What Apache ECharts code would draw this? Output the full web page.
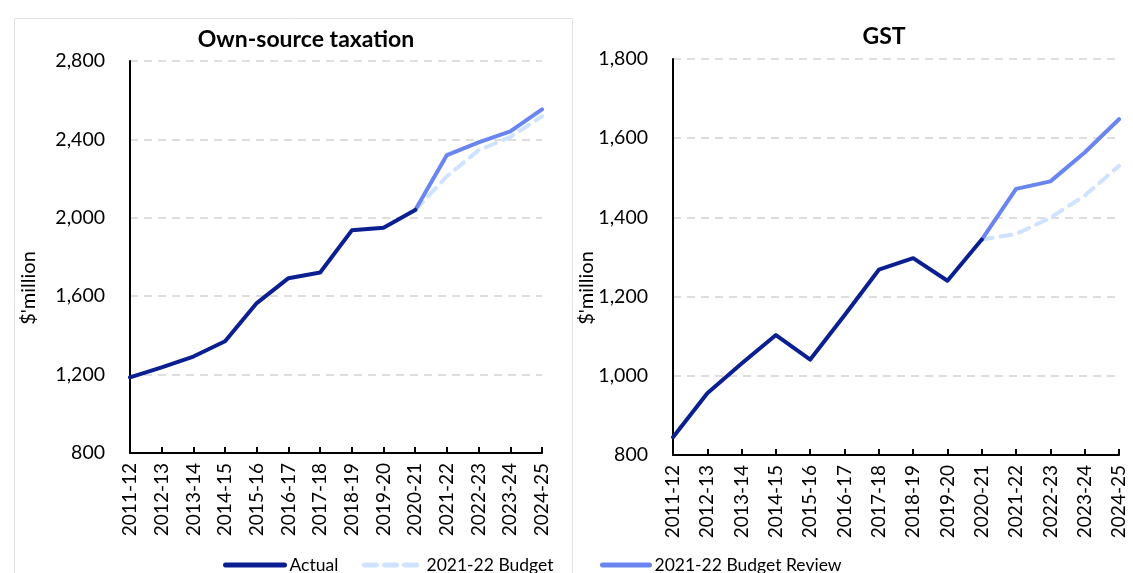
<!DOCTYPE html>
<html>
<head>
<meta charset="utf-8">
<script src="https://cdn.jsdelivr.net/npm/echarts@6/dist/echarts.min.js"></script>
<style>
html,body{margin:0;padding:0;background:#fff;}
#chart{width:1133px;height:573px;}
</style>
</head>
<body>
<div id="chart"></div>
<script>
const categories = ['2011-12','2012-13','2013-14','2014-15','2015-16','2016-17','2017-18','2018-19','2019-20','2020-21','2021-22','2022-23','2023-24','2024-25'];

const ownActual = [1186, 1237, 1292, 1370, 1565, 1692, 1721, 1936, 1949, 2040, null, null, null, null];
const ownBudget = [null, null, null, null, null, null, null, null, null, 2040, 2212, 2345, 2412, 2518];
const ownReview = [null, null, null, null, null, null, null, null, null, 2040, 2320, 2385, 2441, 2553];

const gstActual = [845, 956, 1031, 1103, 1041, 1153, 1268, 1297, 1240, 1344, null, null, null, null];
const gstBudget = [null, null, null, null, null, null, null, null, null, 1344, 1358, 1399, 1455, 1530];
const gstReview = [null, null, null, null, null, null, null, null, null, 1344, 1472, 1491, 1564, 1648];

const ownTicks = { min: 800, max: 2800, interval: 400 };
const gstTicks = { min: 800, max: 1800, interval: 200 };

const FONT = 'Lato';
const cActual = '#0C1F90';
const cBudget = '#CFE2FF';
const cReview = '#6A85EF';

function xAxis(gridIndex) {
  return {
    type: 'category', gridIndex, data: categories, boundaryGap: false,
    axisLine: { lineStyle: { color: '#000', width: 2 } },
    axisTick: { show: true, inside: true, length: 6, lineStyle: { color: '#000', width: 2 }, alignWithLabel: true },
    axisLabel: { rotate: 90, color: '#000', fontFamily: FONT, fontSize: 19, margin: 10, interval: 0 },
    splitLine: { show: false }
  };
}
function yAxis(gridIndex, t) {
  return {
    type: 'value', gridIndex, min: t.min, max: t.max, interval: t.interval,
    axisLine: { show: true, lineStyle: { color: '#000', width: 2 } },
    axisTick: { show: false },
    axisLabel: { color: '#000', fontFamily: FONT, fontSize: 19.5, margin: 25,
      formatter: v => v.toLocaleString('en-US') },
    splitLine: { show: true, lineStyle: { color: '#D4D4D4', width: 1.5, type: [8, 6] } }
  };
}
function series(name, data, idx, color, dashed, z) {
  return {
    name, type: 'line', xAxisIndex: idx, yAxisIndex: idx, data,
    symbol: 'none', smooth: false, connectNulls: false, z,
    lineStyle: { color, width: 4, type: dashed ? [11, 8] : 'solid', cap: 'round', join: 'round' },
    itemStyle: { color }
  };
}
function legend(name, left, w, dashed) {
  return {
    data: [name], left, top: 556, padding: 0, itemWidth: w, itemHeight: 14,
    itemStyle: { opacity: 0 },
    lineStyle: { width: 5, type: dashed ? [12, 8] : 'solid', cap: 'round' },
    textStyle: { fontFamily: FONT, fontSize: 17.5, color: '#000' }
  };
}

const chart = echarts.init(document.getElementById('chart'), null, { renderer: 'canvas' });
chart.setOption({
  animation: false,
  backgroundColor: '#fff',
  textStyle: { fontFamily: FONT },
  title: [
    { text: 'Own-source taxation', left: 301, top: 23, textAlign: 'center',
      textStyle: { fontFamily: FONT, fontWeight: 'bold', fontSize: 23, color: '#000' } },
    { text: 'GST', left: 879, top: 20, textAlign: 'center',
      textStyle: { fontFamily: FONT, fontWeight: 'bold', fontSize: 23, color: '#000' } }
  ],
  grid: [
    { left: 130, top: 61, width: 412, height: 392, containLabel: false },
    { left: 673, top: 59, width: 446, height: 396, containLabel: false }
  ],
  xAxis: [xAxis(0), xAxis(1)],
  yAxis: [yAxis(0, ownTicks), yAxis(1, gstTicks)],
  legend: [
    legend('Actual', 223, 59, false),
    legend('2021-22 Budget', 362, 57, true),
    legend('2021-22 Budget Review', 600, 47, false)
  ],
  graphic: [
    { type: 'rect', left: 12, top: 16, shape: { width: 558, height: 570 }, silent: true, z: -10,
      style: { fill: 'none', stroke: '#E3E3E3', lineWidth: 1 } },
    { type: 'text', x: 29, y: 288, rotation: Math.PI / 2,
      style: { text: "$'million", fontFamily: FONT, fontSize: 20, fill: '#000', align: 'center', verticalAlign: 'middle' } },
    { type: 'text', x: 587, y: 288, rotation: Math.PI / 2,
      style: { text: "$'million", fontFamily: FONT, fontSize: 20, fill: '#000', align: 'center', verticalAlign: 'middle' } }
  ],
  series: [
    series('2021-22 Budget', ownBudget, 0, cBudget, true, 2),
    series('2021-22 Budget Review', ownReview, 0, cReview, false, 3),
    series('Actual', ownActual, 0, cActual, false, 4),
    series('2021-22 Budget', gstBudget, 1, cBudget, true, 2),
    series('2021-22 Budget Review', gstReview, 1, cReview, false, 3),
    series('Actual', gstActual, 1, cActual, false, 4)
  ]
});
</script>
</body>
</html>
